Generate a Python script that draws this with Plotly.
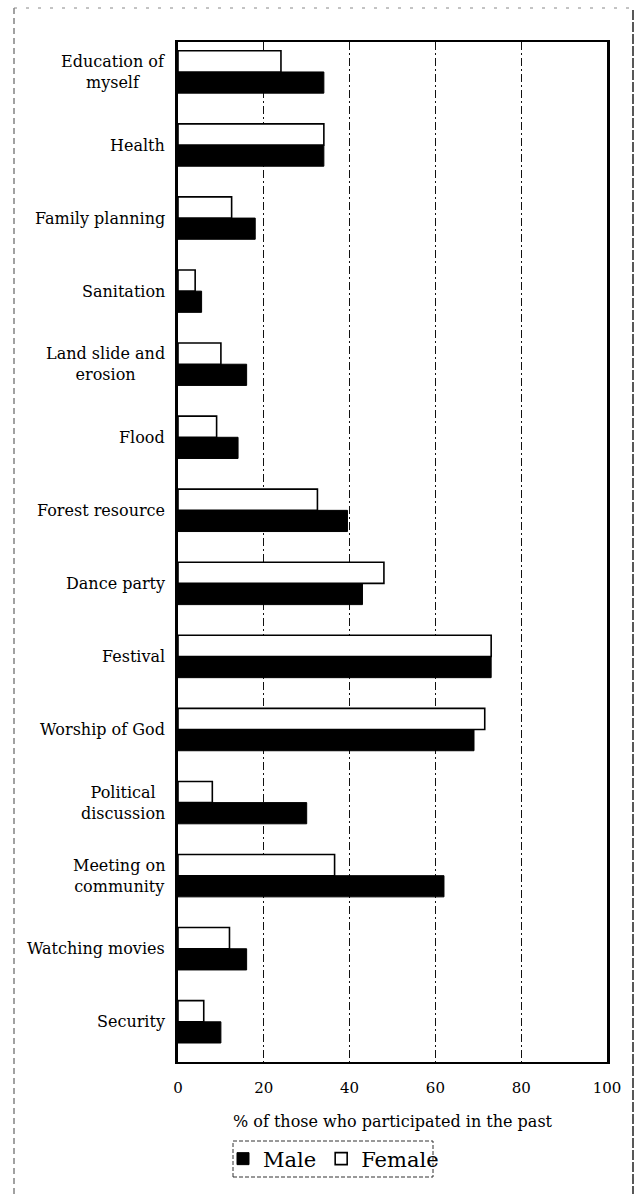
import plotly.graph_objects as go

# Activities, listed top to bottom as they appear on the chart
categories = [
    "Education of<br>myself",
    "Health",
    "Family planning",
    "Sanitation",
    "Land slide and<br>erosion",
    "Flood",
    "Forest resource",
    "Dance party",
    "Festival",
    "Worship of God",
    "Political<br>discussion",
    "Meeting on<br>community",
    "Watching movies",
    "Security",
]

# % of respondents who participated in the past
male = [34, 34, 18, 5.5, 16, 14, 39.5, 43, 73, 69, 30, 62, 16, 10]
female = [24, 34, 12.5, 4, 10, 9, 32.5, 48, 73, 71.5, 8, 36.5, 12, 6]

x_ticks = [0, 20, 40, 60, 80, 100]

SERIF = "DejaVu Serif"
W, H = 635, 1194
ML, MR, MT, MB = 178, 28, 42, 132
PW, PH = W - ML - MR, H - MT - MB


def px_x(x):
    return (x - ML) / PW


def px_y(y):
    return (H - MB - y) / PH


fig = go.Figure()
fig.add_trace(go.Bar(
    name="Male", y=categories, x=male, orientation="h",
    marker=dict(color="black", line=dict(color="black", width=1)),
))
fig.add_trace(go.Bar(
    name="Female", y=categories, x=female, orientation="h",
    marker=dict(color="white", line=dict(color="black", width=1.6)),
))

# Category labels, centred line by line, right of the labels at the axis
for cat in categories:
    fig.add_annotation(
        x=0, xref="paper", y=cat, yref="y", xanchor="right", xshift=-11,
        text=cat, showarrow=False, align="center",
        font=dict(family=SERIF, size=16, color="black"),
    )

shapes = [
    # dashed frame round the legend
    dict(type="rect", xref="paper", yref="paper",
         x0=px_x(233), x1=px_x(433), y0=px_y(1177), y1=px_y(1141),
         line=dict(color="#333", width=1, dash="4px,2px")),
    # outer frame of the figure
    dict(type="line", xref="paper", yref="paper",
         x0=px_x(14), x1=px_x(14), y0=px_y(8), y1=px_y(1200),
         line=dict(color="#444", width=1, dash="6px,4px")),
    dict(type="line", xref="paper", yref="paper",
         x0=px_x(633), x1=px_x(633), y0=px_y(10), y1=px_y(1200),
         line=dict(color="#222", width=1.5, dash="10px,2px")),
    dict(type="line", xref="paper", yref="paper",
         x0=px_x(14), x1=px_x(633), y0=px_y(8), y1=px_y(8),
         line=dict(color="#888", width=1, dash="3px,9px")),
]

fig.update_layout(
    width=W, height=H,
    margin=dict(l=ML, r=MR, t=MT, b=MB),
    paper_bgcolor="white", plot_bgcolor="white",
    barmode="group", bargap=0.42, bargroupgap=0,
    font=dict(family=SERIF, color="black"),
    showlegend=True,
    legend=dict(
        orientation="h", x=px_x(223), xanchor="left",
        y=px_y(1159), yanchor="middle",
        font=dict(family=SERIF, size=21, color="black"),
        bgcolor="rgba(0,0,0,0)", borderwidth=0,
        itemwidth=30, tracegroupgap=0,
    ),
    shapes=shapes,
)

fig.update_xaxes(
    range=[0, 100], tickvals=x_ticks, ticktext=[str(v) for v in x_ticks],
    showgrid=True, gridcolor="#111", gridwidth=1.2, griddash="8px,3px,2px,3px",
    zeroline=False, showline=True, linecolor="black", linewidth=1.6, mirror=True,
    ticks="", ticklabelstandoff=11,
    tickfont=dict(family=SERIF, size=15, color="black"),
    title=dict(text="% of those who participated in the past",
               font=dict(family=SERIF, size=16, color="black"), standoff=20),
)
fig.update_yaxes(
    type="category", categoryorder="array", categoryarray=categories[::-1],
    range=[-0.55, 13.41], showticklabels=False, showgrid=False,
    zeroline=False, showline=True, linecolor="black", linewidth=3, mirror=True,
    ticks="",
)

fig.write_html("out.html")
